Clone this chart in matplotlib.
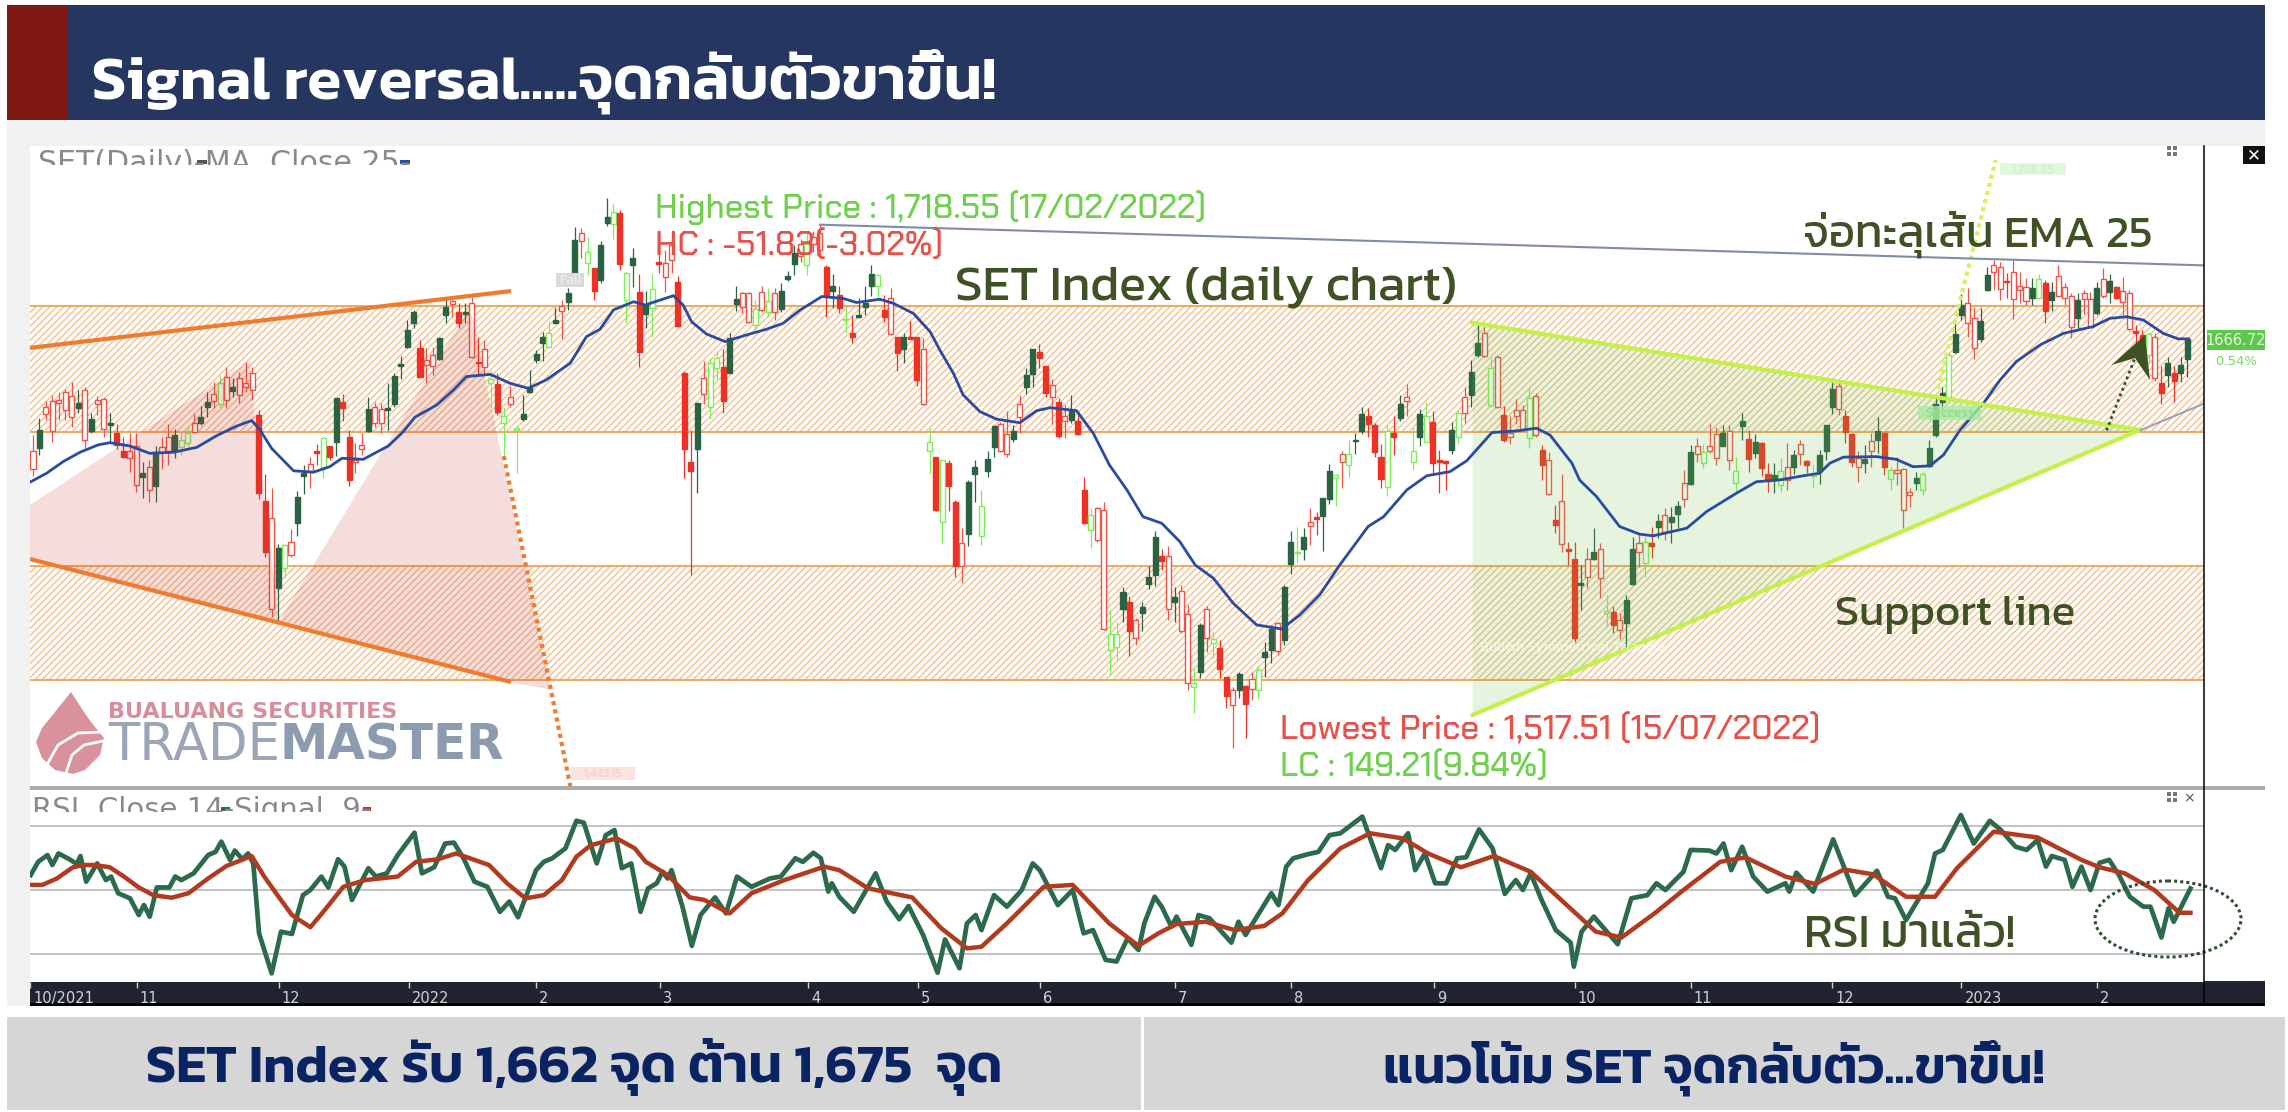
import matplotlib
matplotlib.use("Agg")
import matplotlib.pyplot as plt
from matplotlib.collections import LineCollection
from matplotlib.patches import Rectangle, Polygon, Ellipse
from matplotlib import transforms as mtrans

# ---------------- data ----------------
candle_kinds = ("rGrrrrrGrG" "rrGRRrrGrG" "rrGggrGGrg" "rGrrrRRrGg" "rGGrRgRGRR" "rrGrrGGGGG" "RrrGGrRGrR"
                "rgRgrgGGGG" "gGrGGrgRGG" "gRgGRGgRrr" "RRRGrggRGG" "rrgrgrGGGr" "grrRGRgRGG" "GgRrRGRRrg"
                "RgRRrGGgGG" "rrGrGGRRrR" "rGRRgrrggG" "RrGGGRrGrr" "gGrgRRrGRr" "gGGrGGgGrR" "GGgrgGGRRR"
                "gRGrgGgRRR" "GgrGGrgrRr" "rrgrRrRrRR" "GrGrgRrGGr" "gRGrGGrGrg" "rrGrgGRGRR" "GgrGrRgGGG"
                "rRRrGrGRgr" "rrGgGGGgGG" "rrGGrrRrrr" "GgRGrrrGrr" "GrGRrrRRgr" "RGRGG")

body_tops = [
1626.6,1634.2,1642.5,1644.9,1645.1,1647.9,1646.7,1644.2,1648.8,1638.1,
1645.1,1645.4,1636.4,1633.2,1626.5,1626.6,1628.1,1618.3,1620.5,1626.2,
1627.8,1631.7,1632.3,1630.5,1632.9,1636.6,1639,1644.5,1647.3,1651.5,
1653.7,1649.8,1653.1,1651.5,1655.1,1639.6,1608.3,1601.8,1591.1,1592.1,
1593.3,1609.5,1618.5,1621.7,1626.5,1631.1,1628.3,1645.7,1644.5,1631.4,
1622.9,1628.7,1641.8,1642.7,1641.7,1641.8,1653.9,1658.2,1670.8,1677.3,
1664,1659.8,1661.6,1667.7,1679.3,1681.5,1677.2,1677.1,1680.5,1659.2,
1663.7,1652.9,1650.9,1639.4,1646.1,1634.6,1640,1649.8,1662,1668.1,
1669.8,1674.4,1679.7,1684.4,1703.7,1706.1,1699.4,1693.3,1701.9,1712.2,
1713.8,1713.5,1691.5,1697,1684.5,1679.9,1685.8,1695.4,1695.4,1701.9,
1688.2,1654.9,1622.3,1644.2,1653.3,1658.6,1660.6,1657.3,1667.7,1682.1,
1684.4,1684.2,1678.4,1684.6,1681.5,1684.2,1685,1690.5,1698.8,1702.4,
1702.4,1704.7,1706.2,1693.9,1686.9,1683.6,1674.8,1669.8,1676,1680.8,
1691.1,1690.8,1678,1682.3,1668.1,1668.1,1668.3,1668.1,1663.7,1629.9,
1624.4,1623.2,1622,1607.9,1592.7,1615,1620.7,1606.5,1623.4,1635.7,
1636.3,1632.7,1633.9,1643.7,1654.2,1663.7,1662.6,1657.6,1650.6,1644.5,
1639.3,1641.2,1637.6,1612.2,1603.1,1605.5,1604.9,1559.5,1559.5,1574.8,
1571.3,1564.6,1569.3,1580.3,1594.9,1588,1588,1572.9,1575.2,1566.8,
1541.7,1562.8,1568.6,1557.5,1554.3,1543.6,1539,1544.8,1540.6,1542.9,
1546.3,1553,1561.2,1563.4,1576.8,1593.3,1589.5,1594.9,1600.5,1602.2,
1609.2,1619.2,1617.7,1625.3,1625.4,1630.4,1639.9,1639.1,1635.8,1624.2,
1633.8,1633.2,1643.7,1646.4,1626.6,1639.9,1639.1,1636.9,1623.2,1622.7,
1634.2,1640.3,1646.4,1655.2,1666.1,1669.8,1657,1660.8,1639.7,1633,
1641.3,1641.3,1645.8,1646.6,1626.9,1623,1601.2,1608.2,1590.5,1586.8,
1578.1,1587,1589.5,1590.7,1567.7,1567.4,1564.6,1572,1590.7,1592.9,
1593.3,1592.9,1601,1603,1602.4,1606.5,1614.9,1626,1628.3,1626.2,
1628.3,1632.7,1633,1633.9,1619.3,1637.4,1630.7,1629.9,1629.3,1618.1,
1617.5,1619.3,1620.5,1625,1629,1622.8,1617.7,1625,1636,1649,
1650.4,1639.4,1632.6,1623.8,1623.7,1630.1,1633.8,1633.2,1619.5,1619.5,
1620,1611.3,1616.7,1617.9,1627.4,1643.7,1647.6,1661.6,1669.2,1679.9,
1680.8,1675.3,1674.2,1690.9,1694.5,1693.9,1688.7,1692.1,1686.9,1686.4,
1686,1689.3,1688.1,1684.8,1690.5,1686.6,1683.2,1681.7,1684.2,1682,
1686,1689.4,1688.8,1686.4,1685.2,1684.2,1670.5,1668.9,1669.2,1668.3,
1651.2,1658.8,1655.1,1657.9,1667.3]

body_bottoms = [
1620,1627.7,1640,1633.7,1643.9,1641.5,1638.8,1642.2,1630.5,1633.9,
1643.7,1634.4,1636,1628.7,1624.4,1623.8,1614,1617.1,1612,1613.7,
1626.2,1626.6,1626.8,1627.8,1629.3,1633.5,1636.8,1642.5,1644.9,1643.7,
1645.1,1648.4,1647,1650,1648.8,1611,1589.6,1568.6,1576.2,1583.5,
1588.2,1600.2,1617.4,1618.9,1625.7,1620.7,1624.2,1629.9,1642.1,1615.9,
1622.4,1627.1,1633.9,1636.8,1636.6,1641.5,1643.7,1657.7,1664.7,1673.2,
1653.4,1658,1657.7,1660,1676.2,1680.2,1673.2,1676.6,1660.8,1658.6,
1657.3,1651.2,1640.9,1636.8,1643.7,1634.2,1638.1,1648.1,1659.8,1666.1,
1664.7,1673.4,1677.7,1681,1690,1703.3,1695.4,1685.2,1689.1,1709.8,
1709.4,1694.8,1681.7,1694.5,1662.8,1676.5,1678.7,1694.9,1690.3,1696.4,
1672.2,1627.1,1619.3,1627.1,1647.3,1642.5,1657,1644.9,1655.1,1680.2,
1679.3,1673.8,1672.6,1678.1,1677.5,1677.2,1678.3,1689.5,1695,1697.8,
1694.7,1702.4,1700.1,1683.1,1685.2,1678.7,1674.3,1668.1,1675.5,1679,
1687,1687,1675.6,1669.3,1662.2,1663.7,1667.6,1652.4,1643.7,1626.4,
1604.9,1600.4,1613.7,1584.5,1584.5,1596,1617.9,1595.5,1619.1,1628,
1626.4,1625.4,1630.9,1639,1650,1654.5,1660.4,1647.8,1646.4,1632.1,
1637.3,1637.8,1632.6,1600.2,1597.6,1593.7,1561.2,1553.6,1554.8,1568.6,
1560.4,1557.9,1567.3,1577.8,1581.1,1586.3,1568.6,1571.2,1560.6,1541.4,
1540,1545.5,1557.9,1556,1546.7,1536.8,1533.3,1539,1533.8,1539.4,
1538.8,1551.2,1553.6,1553.4,1557.1,1585.1,1589,1590.6,1599,1601.5,
1602.8,1608.9,1616.6,1622.5,1621.4,1630,1633.9,1636.4,1626.2,1616.1,
1613.4,1631.6,1638.4,1644.9,1622.6,1631.4,1629.9,1622.2,1622.5,1622.2,
1626.9,1631.7,1640.3,1647,1661.6,1661.3,1643.3,1642.5,1630.3,1631.7,
1639.1,1634.2,1631.1,1632.3,1621.4,1610.8,1599.4,1592.5,1589.8,1557.9,
1577.3,1580.5,1586.8,1579.8,1567.1,1562.8,1561,1563.4,1577.8,1589.3,
1585.4,1591.5,1598.6,1596.7,1600.6,1603.4,1609,1614.4,1625.4,1622.2,
1626.6,1623.8,1628.3,1623,1614.6,1635.6,1623.7,1625.9,1620.2,1615.6,
1615.9,1614,1615.9,1620.5,1625.4,1621.2,1617.3,1619.2,1626.6,1642.7,
1641.8,1633.5,1622.6,1620.5,1622.2,1626.5,1630.5,1620.5,1616.1,1618.5,
1604.9,1610.4,1614.6,1612.2,1621,1632.3,1644.5,1646.1,1662.8,1676.2,
1673.4,1664,1667.3,1685.4,1692.1,1685.8,1688.2,1682.1,1685.4,1681.4,
1682.3,1682.3,1677.7,1681.7,1683.2,1682.6,1671.7,1675,1682,1672,
1676.9,1683.2,1684.8,1682.3,1681.1,1671,1669.5,1667.1,1661.6,1653.1,
1647.8,1654.3,1652.2,1655.1,1660]

highs = [
1632.3,1638.4,1644.9,1647,1648.2,1649,1651.8,1648.8,1650,1640.3,
1646.7,1646.4,1640.3,1636.4,1631.7,1632.9,1632.9,1622.6,1623.2,1628.1,
1631.7,1636.2,1634.4,1633.5,1635.1,1640.3,1642.9,1648.2,1651.8,1654.3,
1657.3,1653.1,1655.5,1659.2,1657.3,1641.5,1618.1,1612.8,1592.3,1592.3,
1597.8,1611.8,1621.3,1624.4,1629,1631.7,1628.3,1645.7,1647.3,1634.2,
1629.3,1632.9,1646.4,1644.5,1643.9,1651.2,1655.1,1661.4,1674.4,1678.1,
1667.1,1664,1664.7,1667.7,1681.7,1683.2,1680.5,1680.5,1682.7,1668.3,
1667.1,1655.9,1654.9,1642.7,1650.3,1636,1647,1656.1,1663.4,1670.1,
1674.2,1679.3,1681.7,1686,1708.3,1708.2,1704.7,1693.3,1703.5,1719,
1716.9,1714.7,1692.1,1700.6,1691.1,1685,1691.1,1701.9,1700,1706.1,
1690.5,1655.8,1634.2,1644.2,1659.5,1660.4,1663.1,1663.7,1669.5,1686.9,
1684.8,1684.8,1681.7,1686.9,1686,1686,1687.8,1692.3,1702,1704.2,
1706.2,1707,1709.3,1694.4,1691.1,1686.9,1678.7,1676.3,1682.4,1686.9,
1694.7,1691.1,1683.6,1686,1668.3,1669.8,1674.2,1668.1,1667.7,1635,
1624.4,1623.2,1623.2,1608.5,1598.2,1615.8,1623,1612.2,1626.6,1636,
1637.2,1641.2,1636,1646.9,1657,1663.7,1665.6,1657.6,1652.7,1645.7,
1643.3,1646.9,1640.9,1616.8,1605.7,1606.1,1607.7,1568.3,1564,1576.6,
1573.2,1565.2,1571.3,1584.2,1597,1590.5,1591.7,1576.8,1577.4,1570.1,
1546.9,1563.4,1569.8,1560.4,1557.3,1543.9,1540.2,1545.7,1540.8,1545.7,
1547.8,1556.7,1562.8,1564,1577.4,1597,1598.8,1598.2,1605.5,1604.3,
1609.2,1621.7,1618.1,1626.5,1630.3,1633.2,1642.5,1642.1,1636.6,1628.9,
1636,1639.1,1647,1651,1635.2,1641.7,1644.5,1641.1,1626.9,1623,
1637.2,1641.5,1649.8,1659.6,1672.6,1671.8,1661,1661.6,1643,1639.1,
1645.5,1643.3,1649.8,1647.6,1628.7,1626.2,1606.7,1618,1593.3,1593.3,
1584.8,1590.9,1598.2,1592.7,1573.8,1569.8,1567.1,1573.8,1595.1,1596.1,
1595.1,1598.8,1603.4,1605.5,1606.1,1608.3,1619.5,1628.7,1631.1,1629,
1636.4,1635.2,1636,1636,1624.2,1640.3,1634.2,1632.7,1629.6,1622.2,
1622,1623.8,1629.5,1626.9,1630.3,1623.2,1621.3,1626.8,1636,1651.8,
1651.8,1641.5,1633.2,1626.6,1628.7,1633.2,1639,1633.5,1620.7,1624.4,
1620.1,1612.8,1618.9,1618.9,1630.5,1645.7,1650,1662.8,1674.4,1683.9,
1686,1678.7,1678.7,1693.7,1696.4,1695.8,1691.5,1696.4,1692.1,1689.7,
1689.7,1691.3,1689.1,1688.4,1694.5,1688.1,1684.2,1684.2,1685.4,1684.8,
1688.4,1693.3,1691.1,1686.9,1690,1685.4,1672.6,1670.8,1670.1,1669.5,
1657.6,1661,1657.6,1660.8,1667.3]

lows = [
1617.3,1625,1637.8,1629.9,1637.8,1637.8,1635.4,1640.3,1627.4,1632.9,
1639.6,1631.7,1629.3,1627.1,1623.8,1618.9,1611.6,1609.1,1607.9,1607.9,
1619.8,1621.3,1623.8,1625,1628.1,1633.5,1636,1638.8,1642.1,1642.7,
1642.1,1646.4,1644.2,1648.2,1645.1,1608.8,1587.8,1565.8,1564,1580.5,
1587.8,1595.4,1610.7,1612.8,1621.3,1616.5,1623.2,1624.6,1637.6,1613.7,
1618.3,1625,1633.5,1635.4,1632.9,1634.2,1642.7,1652.7,1664,1671.4,
1653.1,1651.2,1654.3,1659.8,1673.4,1675.6,1671.4,1673.4,1660.4,1654.3,
1654.3,1642.1,1639.6,1624.4,1642.7,1618.3,1637.6,1647.6,1658.6,1659.5,
1664.4,1673.2,1667.3,1678.1,1689.7,1697,1690.9,1681.7,1687.8,1708.8,
1703.9,1692.7,1673.4,1686.6,1657.3,1671.4,1668.3,1691.5,1684.8,1691.5,
1672,1616.5,1581.1,1611,1643.7,1638.1,1652.5,1640.5,1654.9,1677.8,
1677.1,1673.2,1670.8,1677.5,1675.6,1674.4,1677.5,1688.5,1690.8,1695.5,
1690.8,1699.3,1697.8,1675.6,1678.7,1676.9,1669.6,1665.9,1675,1676.3,
1683.2,1681.7,1673.8,1669,1655.9,1658.8,1667.3,1650.2,1643.3,1618.3,
1604.6,1592.9,1604.6,1580.5,1578.3,1591.5,1607.9,1592,1617,1624.4,
1626.2,1624.4,1629.9,1632.9,1647.3,1650,1656.7,1646.4,1636.3,1631.1,
1631.3,1636.6,1632.3,1599.6,1590.8,1593.3,1561,1544.5,1549.7,1564,
1551.4,1555.5,1560.4,1575.9,1577.1,1582.9,1564.6,1564,1559.7,1539,
1530.4,1543.3,1553,1550.6,1543.3,1532.3,1517.7,1536,1521.3,1535.4,
1535.6,1543.9,1548.8,1551.8,1555.5,1581.5,1585.4,1586.6,1592.1,1595.7,
1590,1607,1606.4,1612.8,1617.1,1625.4,1632.7,1631.5,1624.4,1612.8,
1610,1625,1637.6,1639.3,1619.5,1628.1,1629.9,1618.3,1611.2,1612,
1625.4,1628.9,1636.6,1642.7,1661,1661,1642.7,1642.1,1629.9,1628.9,
1636.4,1633.6,1627.5,1631.7,1615.9,1610.4,1596.4,1589.6,1584.8,1556.7,
1568.3,1576.2,1586.6,1572.6,1562.2,1560,1557.6,1554.2,1577.4,1583.9,
1580.2,1587.2,1594.5,1593.9,1592.9,1598.2,1605.9,1614,1622.6,1620.1,
1625.6,1621.4,1628.1,1619.5,1611.2,1630.3,1618.9,1623.8,1617.3,1611.6,
1611.2,1611.6,1612.2,1618.1,1621.4,1618.3,1612.8,1614.3,1623.2,1640,
1639.7,1629.3,1620.7,1615,1618.5,1620.7,1625.6,1617.7,1612.2,1614,
1598.2,1606.1,1612.2,1610.4,1620.7,1631.7,1641.5,1645.7,1662.2,1674.4,
1668.3,1660,1666.5,1685.2,1685.4,1681.7,1682.3,1674.7,1680.5,1679.9,
1679.9,1682,1673.2,1677.8,1683,1679.9,1667.7,1671.4,1676.6,1671.7,
1676.2,1682.3,1680.5,1682,1676.2,1670.5,1665.9,1665.3,1658.6,1652.2,
1643.7,1650,1644.3,1651.8,1653.4]

ema_days = [-0.5,2.1,4.7,7.3,10.1,11.9,15,18.1,21.8,25.4,28.5,31.6,33.9,35.2,37,40.4,43.5,46,47.9,51.2,55.1,
57.4,59.2,62.6,65.2,67.2,70.9,74,76.8,79.6,83.3,85.8,87.9,90,93.1,94.9,99.3,100.8,102.1,104.4,107.3,111,
113.7,116.3,118.9,122.3,125.6,127.7,131.3,133.4,136.5,139.1,140.6,142.7,144.2,146.8,149.4,153,155.6,157.7,161.8,164.4,166.9,
169.6,172.1,175,177.8,180.2,183,186.1,189.7,193.6,196.4,199.5,202.6,207,209.4,213,216.1,219.7,
222.3,226.2,230,233.1,235.2,238.6,239.8,242.4,246,249.1,251.2,256.4,259.5,264.1,267.2,270.9,274.5,
277,278.6,280.7,285.8,288.9,291.5,294.1,296.2,298.8,302.4,305,307.5,311.2,314.8,319.4,322,324.6,327.2,330.3,332.6,334.2]
ema_values = [1615,1618.3,1622.6,1626,1628.7,1629.5,1628.3,1625.6,1626,1627.8,1632.1,1635.6,1637.6,1634.2,1627.4,1619.2,1618.7,1620.7,1623.8,1623.4,1628.3,
1633.5,1638.8,1643.3,1648.8,1653.7,1654.5,1651.2,1649.4,1652.5,1658.6,1668.3,1671,1678.1,1681.1,1679.9,1683.3,1679.9,1673.8,1669.3,1666.5,1669.2,
1671,1673.2,1678,1683,1682.3,1680.8,1682,1680.5,1676.8,1670.1,1663.4,1654.9,1647,1640.9,1638.1,1636.8,1641.2,1642.3,1641.2,1632.9,1621.3,
1612.2,1602.4,1600,1593.3,1584.7,1579.9,1570.7,1562.8,1561.3,1566.4,1573.8,1584.7,1598.8,1602.4,1612.2,1617.4,1618.9,
1622.9,1633.2,1633.8,1634.8,1632.3,1622,1615.8,1609.8,1598.8,1596,1595.4,1598.2,1604.3,1611,1615.2,1615.9,1617.4,
1618.3,1622,1624.2,1624.4,1623.4,1620.7,1621,1625,1634.2,1643.9,1652.5,1659.2,1665.3,1669.5,1672,1675,1675.6,1674.4,1669.5,1667.5,1667.5]

rsi_days = [-0.35,0.8,2.25,3,3.95,5.65,6.8,7.35,8.25,9.95,11.3,12.1,13.2,15.05,16.4,17.2,18.1,19.2,21.15,22.05,23,24.9,27.15,28.3,29.2,30.55,31.3,32.45,33.35,34.15,35.05,37,38.45,40.15,41.85,43,44.7,45.8,47.3,48.3,49.45,52,53.15,54.85,56.55,59.15,60.3,62.2,63.9,65.25,66.75,68.45,70.45,72.4,73.85,75.2,78,79.2,80.5,82.55,84.25,85.4,87.4,88.8,90.15,91.3,92.75,94.2,95.35,96.7,97.6,98.4,99,100.7,102.15,103.5,105.75,107.45,109.15,111.4,114.25,115.95,118.2,119.35,121,122.15,123.3,123.85,125,127.25,130.65,132.35,134.3,135.75,138,140.25,141.4,143.65,144.8,146.15,147.05,149,151,153.3,155,156.1,158.9,161.2,162.9,164.35,166.3,168,169.7,171.4,172.3,
173.9,175,176.5,177.3,179.6,180.7,182.4,185.8,186.9,188,192,193.1,194.3,195.4,197.7,199.3,201,202.7,206.1,209,210.1,211.2,213.2,214.3,215.8,217.4,219.1,220.8,222.2,224.2,226.3,228.2,229.9,231,232.2,233.9,236.1,238.4,238.9,240.1,242,245.7,247.8,250.3,251.7,253.1,255.9,257,259.9,261,262.1,263.3,265,266.7,268.9,271.7,272.3,273.4,276,279.1,282.5,285.9,287.6,288.7,290.4,293.8,294.9,296.1,298.9,300.9,303.4,305.1,307.4,309.1,310.8,312.1,313,315,316.2,317.6,319,320.4,321.9,323.4,325.1,327.2,328.3,330,331.1,331.9,334.5]
rsi_values = [54.7,58.8,60.9,57.8,61.4,59.6,58.1,60.6,52.6,58.3,53.1,54.2,49,47.4,42.2,45.3,41.7,50.8,50.8,54.2,53.1,55.2,60.9,61.9,65.1,59.4,62.3,59.6,61.4,58.3,36.5,24,37,36.3,48.4,50,54.2,50.8,59.6,57.3,46.9,56.8,54.2,55.2,60.9,67.9,55.2,57.1,64.5,64.8,59.9,52.6,51,43.2,46.4,41.5,56.2,58.8,59.9,63,71.6,71,58.3,67.1,68.7,56.8,58.3,43.2,50.5,52.1,55.7,53.6,56.2,44.8,32.6,42.2,47.7,42.7,54.2,51,53.6,54.2,59.9,58.8,61.6,59.9,49.5,52.1,47.9,43.2,55.2,46.4,40.9,45,36,24.2,34.6,25.6,39.6,42.2,37.5,48.4,44.8,50,58.3,56.2,45.3,50,36.5,37.5,28.2,27.7,34.9,31.3,39.6,
47.9,44.8,38.6,41.7,32.9,42.2,41.2,33.6,40.1,36,49,45.3,57.3,59.9,61.2,61.9,67.1,67.7,72.9,56.8,64,62.5,67.7,56.2,61.4,52.1,52.1,59.9,60.2,68.9,63,48.8,53.1,50,55.2,46.9,37.5,33.6,26.1,37,41.7,33.1,47.4,48.4,52.1,50,55.7,62.5,62.3,61.4,64.5,56.2,63.5,54.2,49.5,52.1,49.5,55.4,49.5,65.8,48.4,56,47.9,47.4,40.6,52.1,61.4,62.5,73.4,64.5,71.6,68.7,63.5,62.5,65.6,57.3,60.6,59.4,51,57.3,50,58.5,59.4,54.7,47.9,44.8,44.8,35.2,44.3,40.1,50.5]

signal_days = [-0.35,1.45,3.7,6.2,7.9,9.6,11.9,14.1,16.4,18.65,21.5,24.1,27.15,30,33.9,35.85,37.9,40.15,43,45.25,48.1,51.5,56.55,59.4,62.8,65.6,68.45,70.7,73.5,76.35,79.2,82,84.25,86.5,90.5,93.3,95,98.4,101.8,104.1,108,111.4,116.5,122.7,125,129.5,136.3,140.8,144.8,147.05,151,156.7,161.2,166.85,171.4,
174.5,177.3,181.8,186.3,190.9,193.7,197.7,202.7,207.3,212.4,216.3,221.4,226.5,232.2,237.8,242.3,246.3,251.4,255.9,261.6,265.5,271.7,276.3,280.8,285.3,290.4,294.9,298.3,304,310.8,317.6,320.4,324.3,328.9,332.8,334.5]
signal_values = [51.6,51.6,53.6,57.1,57.8,57.8,57.1,54.2,50.8,48.4,47.6,49,53.6,57.5,60.6,54.2,48.4,42.2,38.4,43.8,51,53.1,54.2,58.8,59.6,61.4,59.4,57.8,52.1,47.4,48.4,53.1,60.4,64,66.1,63,58.8,54.7,47.7,46.9,42.7,49,53.1,57.3,56.2,50.5,47.7,38.1,31.8,32.3,39.6,51,51.6,39.6,32.6,
36.5,39.4,40.1,37.5,38.8,42.7,53.1,63,67.7,66.1,61.4,57.1,60.6,55.7,45.3,37,35.2,42.7,50,58.8,60.2,54.2,51.9,56.4,54.9,47.9,47.9,56.8,68.2,66.4,59.4,57.1,55.2,50,42.9,42.9]
rsi_guides = [30, 50, 70]

month_ticks = [-0.4, 16.1, 38.1, 58.3, 78, 97.2, 120.2, 137.2, 156.1, 177, 195, 217.2, 239, 257, 279, 299, 320]
month_labels = ["10/2021", "11", "12", "2022", "2", "3", "4", "5", "6", "7", "8", "9", "10", "11", "12", "2023", "2"]

zone_upper = (1633.4, 1679.7)
zone_lower = (1542.8, 1584.5)
resistance_line = ([-0.47, 74.1], [1664.2, 1685.0])
support_left_line = ([-0.47, 74.1], [1586.9, 1541.9])
fall_target = ([73, 83.3], [1624.6, 1503.8])
wedge_a = [(-0.47, 1606.7), (33.6, 1659.4), (34.1, 1645.1), (38.1, 1563.9), (-0.47, 1586.9)]
wedge_b = [(38.1, 1563.9), (67.4, 1677.7), (68.2, 1675.1), (80.2, 1539.0), (74.1, 1541.9)]
triangle = [(223.2, 1673.4), (326.7, 1634.2), (223.2, 1529.8)]
rise_target = ([295.3, 304.3], [1649.2, 1733.0])
long_trend = ([122, 336.6], [1709.3, 1694.4])
short_trend = ([326.8, 336.6], [1634.1, 1643.8])
rebound_path = ([321.5, 325.9], [1634.0, 1660.5])

# ---------------- fonts ----------------
def fam(name):
    return [name, "Kanit", "Noto Sans Thai", "DejaVu Sans"]

W, H = 2288, 1112
fig = plt.figure(figsize=(W / 100, H / 100), dpi=100, facecolor="white")

deco = fig.add_axes([0, 0, 1, 1], zorder=0)
deco.set_xlim(0, W); deco.set_ylim(H, 0); deco.axis("off")
top = fig.add_axes([0, 0, 1, 1], zorder=10)
top.set_xlim(0, W); top.set_ylim(H, 0); top.axis("off"); top.patch.set_alpha(0)

def box(ax, x0, y0, x1, y1, color, **kw):
    ax.add_patch(Rectangle((x0, y0), x1 - x0, y1 - y0, facecolor=color, edgecolor="none", **kw))

box(deco, 7, 5, 68, 120, "#7E1810")
box(deco, 68, 5, 2265, 120, "#253660")
box(deco, 7, 120, 2265, 1006, "#F1F1F1")
box(deco, 30, 146, 2265, 982, "white")
box(deco, 30, 786, 2265, 790, "#ABABAB")
box(deco, 30, 981, 2265, 1003, "#20242E")
box(deco, 30, 1003, 2265, 1006, "#000000")
box(deco, 7, 1017, 1141, 1110, "#D6D6D6")
box(deco, 1144, 1017, 2285, 1110, "#D6D6D6")

# ---------------- price panel ----------------
ax = fig.add_axes([30 / W, 1 - 786.6 / H, (2204 - 30) / W, (786.6 - 146) / H], zorder=2)
ax.set_xlim(-0.465, 336.6)
ax.set_ylim(1503.6, 1738.1)
ax.axis("off")

px_x = ax.get_window_extent().width / (ax.get_xlim()[1] - ax.get_xlim()[0])    # pixels per candle
px_y = ax.get_window_extent().height / (ax.get_ylim()[1] - ax.get_ylim()[0])   # pixels per index point
for lo, hi in (zone_upper, zone_lower):
    run = (hi - lo) * px_y / px_x          # horizontal run of a 45-degree stripe
    step = 7.0 / px_x                      # stripe spacing
    starts = [-0.465 - run + n * step for n in range(int((337 + run) / step) + 1)]
    stripes = LineCollection([[(s, lo), (s + run, hi)] for s in starts], colors="#F8BC86", linewidths=0.95, zorder=1)
    ax.add_collection(stripes)
    ax.axhline(lo, color="#F5A65B", lw=1.4, zorder=1.2)
    ax.axhline(hi, color="#F5A65B", lw=1.4, zorder=1.2)

styles = {"R": ("#EE3124", "#EE3124"), "r": ("white", "#EE5348"),
          "G": ("#2A6244", "#2A6244"), "g": ("white", "#7CEF58")}
for i, k in enumerate(candle_kinds):
    face, edge = styles[k]
    ax.vlines(i, lows[i], highs[i], color=edge, lw=0.9, zorder=3)
    height = max(body_tops[i] - body_bottoms[i], 0.6)
    ax.bar(i, height, bottom=body_bottoms[i], width=0.78, facecolor=face, edgecolor=edge,
           linewidth=1.0, zorder=3.2)

ax.add_patch(Polygon(wedge_a, closed=True, facecolor="#C0392B", edgecolor="none", alpha=0.17, zorder=4))
ax.add_patch(Polygon(wedge_b, closed=True, facecolor="#C0392B", edgecolor="none", alpha=0.17, zorder=4))
ax.add_patch(Polygon(triangle, closed=True, facecolor="#6DBE45", edgecolor="none", alpha=0.17, zorder=4))

ax.plot(ema_days, ema_values, color="#2A4CA0", lw=2.0, zorder=5)

ax.plot(*resistance_line, color="#F07B2E", lw=3, zorder=5.5, solid_capstyle="butt")
ax.plot(*support_left_line, color="#F07B2E", lw=3, zorder=5.5, solid_capstyle="butt")
ax.plot(*fall_target, color="#F07B2E", lw=3, ls=(0, (1, 1)), zorder=5.5)
ax.plot([triangle[0][0], triangle[1][0]], [triangle[0][1], triangle[1][1]], color="#C4F04A", lw=3, zorder=5.5)
ax.plot([triangle[2][0], triangle[1][0]], [triangle[2][1], triangle[1][1]], color="#C4F04A", lw=3, zorder=5.5)
ax.plot(*rise_target, color="#D5F25A", lw=3, ls=(0, (1, 1)), zorder=5.5)
ax.plot(*long_trend, color="#7F8CA6", lw=1.5, zorder=5.5)
ax.plot(*short_trend, color="#9AA3B3", lw=1.5, zorder=5.5)
ax.plot(*rebound_path, color="#2F4F2F", lw=2, ls=(0, (1, 1.2)), zorder=5.5)

# ---------------- RSI panel ----------------
rx = fig.add_axes([30 / W, 1 - 981.7 / H, (2204 - 30) / W, (981.7 - 790) / H], zorder=2)
rx.set_xlim(-0.465, 336.6)
rx.set_ylim(21.4, 81.2)
for s in rx.spines.values():
    s.set_visible(False)
rx.set_yticks([])
for g in rsi_guides:
    rx.axhline(g, color="#BDBDBD", lw=1.3, zorder=1)
rx.plot(rsi_days, rsi_values, color="#2B6A4B", lw=3.4, zorder=3)
rx.plot(signal_days, signal_values, color="#B23A1E", lw=3.2, zorder=4)
rx.set_xticks(month_ticks)
rx.set_xticklabels(month_labels, fontsize=10.5, color="#D0D3D8", family="DejaVu Sans")
rx.tick_params(axis="x", direction="out", length=4, width=1, color="#D0D3D8", pad=3)
shift = mtrans.ScaledTranslation(3 / 100, 0, fig.dpi_scale_trans)
for lab in rx.get_xticklabels():
    lab.set_ha("left")
    lab.set_transform(lab.get_transform() + shift)

# ---------------- overlay marks and text ----------------
renderer = fig.canvas.get_renderer()

def label(x, y, s, width=None, size=20, color="black", font="Kanit", weight="normal", ha="left", va="baseline",
          **kw):
    t = top.text(x, y, s, fontsize=size, color=color, family=fam(font), weight=weight, ha=ha, va=va, **kw)
    if width:
        t.set_fontsize(size * width / t.get_window_extent(renderer).width)
    return t

# header and footer
label(92, 98, "Signal reversal.....จุดกลับตัวขาขึ้น!", width=906, size=40, color="white", weight=600)
label(146, 1082, "SET Index รับ 1,662 จุด ต้าน 1,675  จุด", width=858, size=32, color="#0A2362", weight=600)
label(1383, 1082, "แนวโน้ม SET จุดกลับตัว...ขาขึ้น!", width=662, size=32, color="#0A2362", weight=600)

# chart annotations
olive = "#3F5226"
label(655, 218, "Highest Price : 1,718.55 (17/02/2022)", width=550, size=17, color="#6FD04E", font="Chakra Petch", weight=500)
label(655, 255, "HC : -51.83(-3.02%)", width=287, size=17, color="#E8504A", font="Chakra Petch", weight=500)
label(1280, 739, "Lowest Price : 1,517.51 (15/07/2022)", width=540, size=17, color="#E8504A", font="Chakra Petch", weight=500)
label(1280, 776, "LC : 149.21(9.84%)", width=268, size=17, color="#6FD04E", font="Chakra Petch", weight=500)
label(955, 300, "SET Index (daily chart)", width=503, size=32, color=olive)
label(1803, 246, "จ่อทะลุเส้น EMA 25", width=349, size=32, color=olive)
label(1835, 624.5, "Support line", width=240, size=32, color=olive)
label(1804, 947, "RSI มาแล้ว!", width=211, size=30, color=olive)

# clipped panel captions
for x, y, s, w, cy in ((38, 172, "SET(Daily)-MA  Close 25-", 372, 149), (32, 818, "RSI  Close 14-Signal  9-", 339, 796)):
    t = label(x, y, s, width=w, size=22, color="#8A8A8A", font="DejaVu Sans")
    t.set_clip_path(Rectangle((30, cy), 500, 15.5, transform=top.transData))
    t.set_clip_on(True)
box(top, 400, 160, 410, 164, "#2A4CA0")
box(top, 197, 160, 207, 164, "#555555")
box(top, 221, 807, 230, 811, "#2B6A4B")
box(top, 363, 807, 371, 811, "#C0392B")

# small flags
box(top, 556, 273, 584, 287, "#D9D9D9")
label(570, 284, "Fall", size=10, color="#EDEDED", ha="center")
box(top, 1918, 406, 1981, 420, "#A9EBA4", alpha=0.8)
label(1950, 417, "Success", size=10, color="#8FDC8A", ha="center")
box(top, 571, 767, 635, 780, "#FBE3E0")
label(603, 777, "1,443.15", size=9, color="#F5CFCB", ha="center")
box(top, 2000, 163, 2066, 175, "#E2F7DD")
label(2033, 173, "1,788.65", size=9, color="#CFEFC8", ha="center")
label(1480, 651, "Bullish Symmetrical Triangle", width=185, size=10, color="white", alpha=0.55)

# right rail
box(top, 2207, 330, 2265, 350, "#5CC84A")
label(2236, 345, "1666.72", size=10.5, color="#E8F8E0", ha="center", font="DejaVu Sans")
label(2236, 365, "0.54%", size=9.5, color="#7FD268", ha="center", font="DejaVu Sans")
box(top, 2243, 146, 2265, 164, "#111111")
label(2254, 160, "✕", size=12, color="white", ha="center", font="DejaVu Sans", weight="bold")
for cx, cy in ((2172, 151), (2172, 797)):   # window-resize icon, no font has this glyph
    for dx, dy in ((-3, -3), (3, -3), (-3, 3), (3, 3)):
        box(top, cx + dx - 2, cy + dy - 2, cx + dx + 2, cy + dy + 2, "#777777")
label(2189, 802, "×", size=10, color="#555555", ha="center", font="DejaVu Sans")
top.plot([2204, 2204], [146, 1005], color="black", lw=1.1)

# arrow head and RSI circle
top.add_patch(Polygon([(2145, 335), (2111.7, 365), (2135, 358), (2150, 380)], closed=True,
                      facecolor=olive, edgecolor="none"))
top.add_patch(Ellipse((2168, 919), 146, 76, facecolor="none", edgecolor="#2F4F2F", lw=2.2, ls=(0, (1, 1))))

# logo
top.add_patch(Polygon([(71, 692), (84, 712), (91, 722), (104, 738), (100, 755), (85, 770), (73, 774), (55, 770),
                       (42, 758), (36, 742), (42, 728), (55, 712)], closed=True, facecolor="#D9929C", edgecolor="none"))
top.plot([44, 58, 78, 103], [770, 745, 733, 732], color="white", lw=2)
top.plot([66, 72, 84, 103], [773, 755, 745, 741], color="white", lw=2)
label(108, 718, "BUALUANG SECURITIES", width=290, size=14, color="#D88E98", weight="bold", font="DejaVu Sans")
label(108, 760, "TRADE", width=172, size=26, color="#9AA5B8", font="DejaVu Sans")
label(280, 760, "MASTER", width=225, size=26, color="#8C9BB0", weight="bold", font="DejaVu Sans")

fig.savefig("out.png", dpi=100, facecolor="white")
